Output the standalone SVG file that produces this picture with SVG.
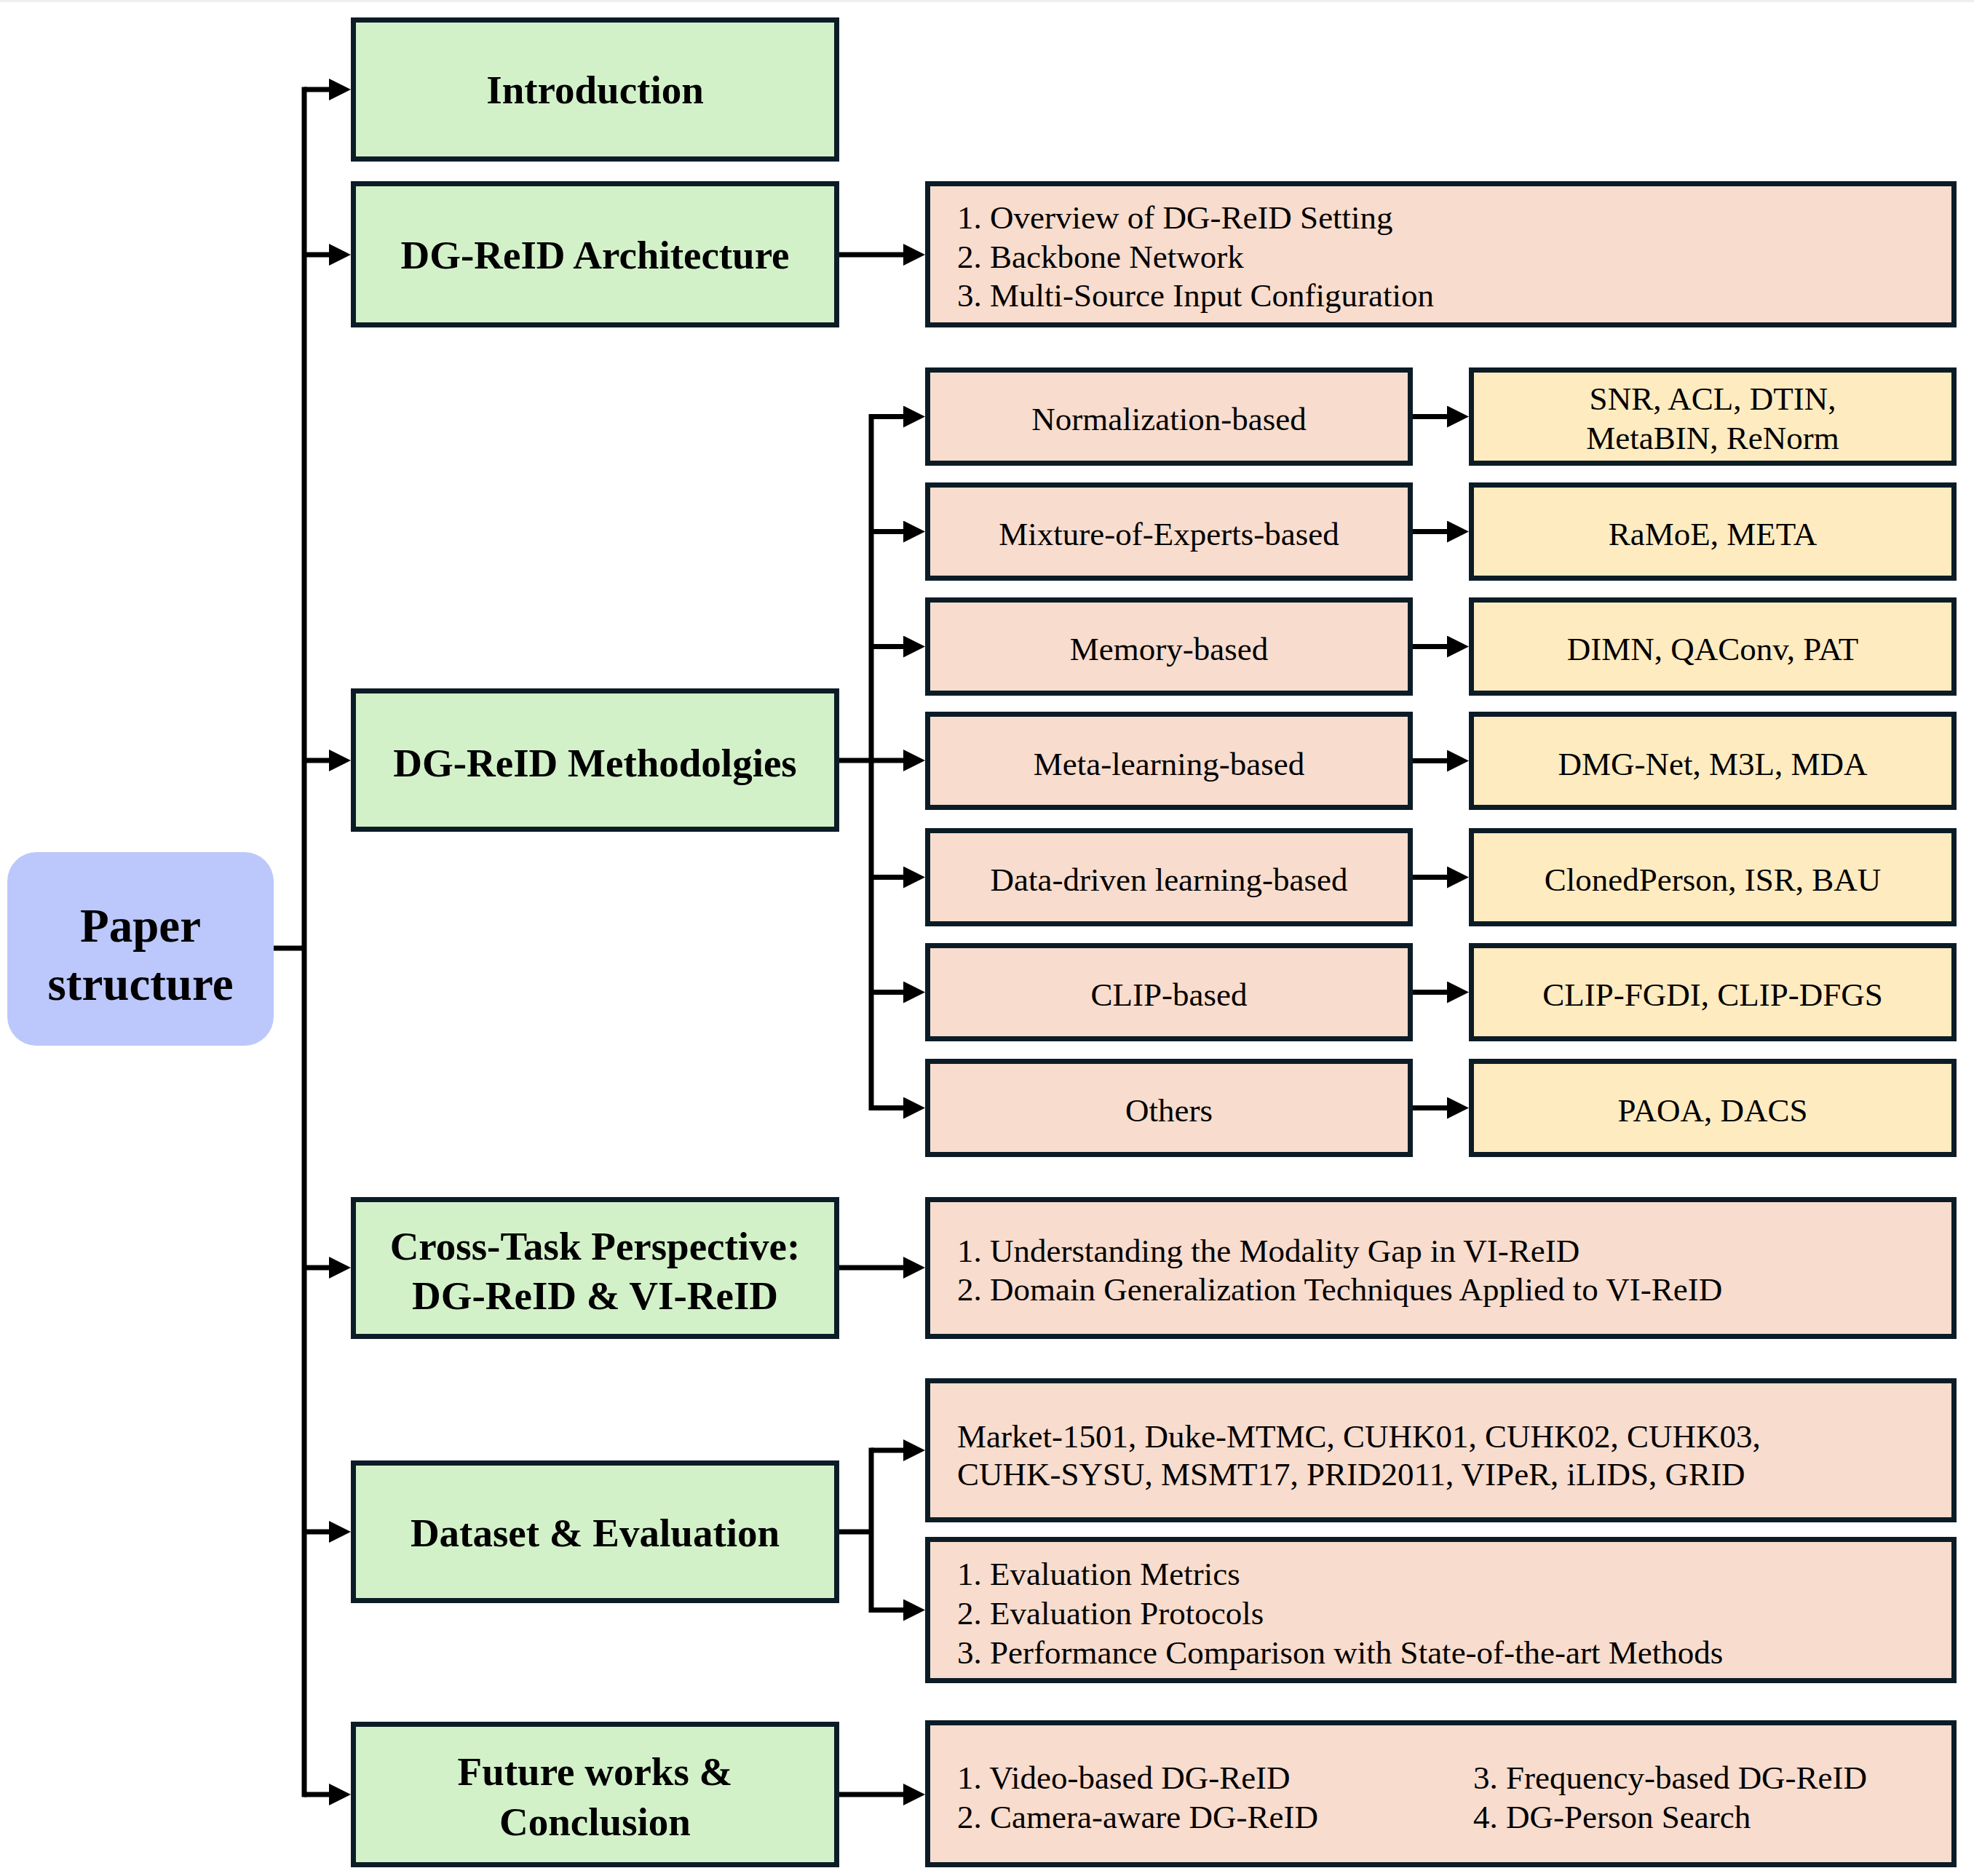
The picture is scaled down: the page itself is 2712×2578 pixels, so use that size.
<svg xmlns="http://www.w3.org/2000/svg" width="2712" height="2578" viewBox="0 0 2712 2578">
<defs>
<style>
.box{stroke:#0C1C27;stroke-width:7}
.g{fill:#D3F1C9}
.p{fill:#F8DCCD}
.y{fill:#FFEBC0}
.t{font-family:"Liberation Serif","Times New Roman",serif;font-size:45px;fill:#000}
.c{text-anchor:middle}
.b{font-family:"Liberation Serif","Times New Roman",serif;font-weight:bold;font-size:55px;fill:#000;text-anchor:middle}
.ln{fill:none;stroke:#000;stroke-width:7}
.ar{fill:none;stroke:#000;stroke-width:7;marker-end:url(#ah)}
</style>
<marker id="ah" markerUnits="userSpaceOnUse" markerWidth="30" markerHeight="30" refX="0" refY="15" orient="auto" viewBox="0 0 30 30">
<path d="M0,0 L30,15 L0,30 Z" fill="#000"/>
</marker>
</defs>
<rect x="0" y="0" width="2712" height="2578" fill="#fff"/>
<rect x="0" y="0" width="2712" height="3" fill="#efefef"/>

<g id="connectors">
<path class="ln" d="M376,1303 H418"/>
<path class="ln" d="M418,119.5 V2469.5"/>
<path class="ar" d="M418,123 H452"/>
<path class="ar" d="M418,350 H452"/>
<path class="ar" d="M418,1045 H452"/>
<path class="ar" d="M418,1742 H452"/>
<path class="ar" d="M418,2105 H452"/>
<path class="ar" d="M418,2466 H452"/>
<path class="ar" d="M1153,350 H1241"/>
<path class="ar" d="M1153,1045 H1241"/>
<path class="ln" d="M1197,569 V1526"/>
<path class="ar" d="M1197,572.5 H1241"/>
<path class="ar" d="M1197,730.5 H1241"/>
<path class="ar" d="M1197,888.5 H1241"/>
<path class="ar" d="M1197,1205.5 H1241"/>
<path class="ar" d="M1197,1363.5 H1241"/>
<path class="ar" d="M1197,1522.5 H1241"/>
<path class="ar" d="M1941,572.5 H1988"/>
<path class="ar" d="M1941,730.5 H1988"/>
<path class="ar" d="M1941,888.5 H1988"/>
<path class="ar" d="M1941,1045.5 H1988"/>
<path class="ar" d="M1941,1205.5 H1988"/>
<path class="ar" d="M1941,1363.5 H1988"/>
<path class="ar" d="M1941,1522.5 H1988"/>
<path class="ar" d="M1153,1742 H1241"/>
<path class="ln" d="M1153,2105 H1197"/>
<path class="ln" d="M1197,1989.5 V2216"/>
<path class="ar" d="M1197,1993 H1241"/>
<path class="ar" d="M1197,2212.5 H1241"/>
<path class="ar" d="M1153,2466 H1241"/>
</g>

<g id="paper">
<rect x="10" y="1171" width="366" height="266" rx="40" ry="40" fill="#BCC8FB"/>
<text class="b" style="font-size:65px" x="193" y="1294">Paper</text>
<text class="b" style="font-size:65px" x="193" y="1374">structure</text>
</g>

<g id="introduction">
<rect class="box g" x="485.5" y="27.5" width="664" height="191"/>
<text class="b" x="817.5" y="142">Introduction</text>
</g>
<g id="architecture">
<rect class="box g" x="485.5" y="252.5" width="664" height="194"/>
<text class="b" x="817.5" y="369">DG-ReID Architecture</text>
</g>
<g id="methodologies">
<rect class="box g" x="485.5" y="949.5" width="664" height="190"/>
<text class="b" x="817.5" y="1067">DG-ReID Methodolgies</text>
</g>
<g id="crosstask">
<rect class="box g" x="485.5" y="1648.5" width="664" height="188"/>
<text class="b" x="817.5" y="1731">Cross-Task Perspective:</text>
<text class="b" x="817.5" y="1799">DG-ReID &amp; VI-ReID</text>
</g>
<g id="dataset">
<rect class="box g" x="485.5" y="2010.5" width="664" height="189"/>
<text class="b" x="817.5" y="2125">Dataset &amp; Evaluation</text>
</g>
<g id="future">
<rect class="box g" x="485.5" y="2369.5" width="664" height="193"/>
<text class="b" x="817.5" y="2453">Future works &amp;</text>
<text class="b" x="817.5" y="2522">Conclusion</text>
</g>

<g id="arch-detail">
<rect class="box p" x="1274.5" y="252.5" width="1410" height="194"/>
<text class="t" x="1315" y="314">1. Overview of DG-ReID Setting</text>
<text class="t" x="1315" y="368">2. Backbone Network</text>
<text class="t" x="1315" y="421">3. Multi-Source Input Configuration</text>
</g>

<g id="norm">
<rect class="box p" x="1274.5" y="508.5" width="663" height="128"/>
<text class="t c" x="1606" y="591">Normalization-based</text>
</g>
<g id="norm-methods">
<rect class="box y" x="2021.5" y="508.5" width="663" height="128"/>
<text class="t c" x="2353" y="563">SNR, ACL, DTIN,</text>
<text class="t c" x="2353" y="617">MetaBIN, ReNorm</text>
</g>
<g id="moe">
<rect class="box p" x="1274.5" y="666.5" width="663" height="128"/>
<text class="t c" x="1606" y="749">Mixture-of-Experts-based</text>
</g>
<g id="moe-methods">
<rect class="box y" x="2021.5" y="666.5" width="663" height="128"/>
<text class="t c" x="2353" y="749">RaMoE, META</text>
</g>
<g id="memory">
<rect class="box p" x="1274.5" y="824.5" width="663" height="128"/>
<text class="t c" x="1606" y="907">Memory-based</text>
</g>
<g id="memory-methods">
<rect class="box y" x="2021.5" y="824.5" width="663" height="128"/>
<text class="t c" x="2353" y="907">DIMN, QAConv, PAT</text>
</g>
<g id="meta">
<rect class="box p" x="1274.5" y="981.5" width="663" height="128"/>
<text class="t c" x="1606" y="1065">Meta-learning-based</text>
</g>
<g id="meta-methods">
<rect class="box y" x="2021.5" y="981.5" width="663" height="128"/>
<text class="t c" x="2353" y="1065">DMG-Net, M3L, MDA</text>
</g>
<g id="data">
<rect class="box p" x="1274.5" y="1141.5" width="663" height="128"/>
<text class="t c" x="1606" y="1224">Data-driven learning-based</text>
</g>
<g id="data-methods">
<rect class="box y" x="2021.5" y="1141.5" width="663" height="128"/>
<text class="t c" x="2353" y="1224">ClonedPerson, ISR, BAU</text>
</g>
<g id="clip">
<rect class="box p" x="1274.5" y="1299.5" width="663" height="128"/>
<text class="t c" x="1606" y="1382">CLIP-based</text>
</g>
<g id="clip-methods">
<rect class="box y" x="2021.5" y="1299.5" width="663" height="128"/>
<text class="t c" x="2353" y="1382">CLIP-FGDI, CLIP-DFGS</text>
</g>
<g id="others">
<rect class="box p" x="1274.5" y="1458.5" width="663" height="128"/>
<text class="t c" x="1606" y="1541">Others</text>
</g>
<g id="others-methods">
<rect class="box y" x="2021.5" y="1458.5" width="663" height="128"/>
<text class="t c" x="2353" y="1541">PAOA, DACS</text>
</g>

<g id="cross-detail">
<rect class="box p" x="1274.5" y="1648.5" width="1410" height="188"/>
<text class="t" x="1315" y="1734">1. Understanding the Modality Gap in VI-ReID</text>
<text class="t" x="1315" y="1787">2. Domain Generalization Techniques Applied to VI-ReID</text>
</g>
<g id="datasets">
<rect class="box p" x="1274.5" y="1897.5" width="1410" height="191"/>
<text class="t" x="1315" y="1989">Market-1501, Duke-MTMC, CUHK01, CUHK02, CUHK03,</text>
<text class="t" x="1315" y="2041">CUHK-SYSU, MSMT17, PRID2011, VIPeR, iLIDS, GRID</text>
</g>
<g id="evaluation">
<rect class="box p" x="1274.5" y="2115.5" width="1410" height="194"/>
<text class="t" x="1315" y="2178">1. Evaluation Metrics</text>
<text class="t" x="1315" y="2232">2. Evaluation Protocols</text>
<text class="t" x="1315" y="2286">3. Performance Comparison with State-of-the-art Methods</text>
</g>
<g id="future-detail">
<rect class="box p" x="1274.5" y="2367.5" width="1410" height="195"/>
<text class="t" x="1315" y="2458">1. Video-based DG-ReID</text>
<text class="t" x="1315" y="2512">2. Camera-aware DG-ReID</text>
<text class="t" x="2024" y="2458">3. Frequency-based DG-ReID</text>
<text class="t" x="2024" y="2512">4. DG-Person Search</text>
</g>
</svg>
